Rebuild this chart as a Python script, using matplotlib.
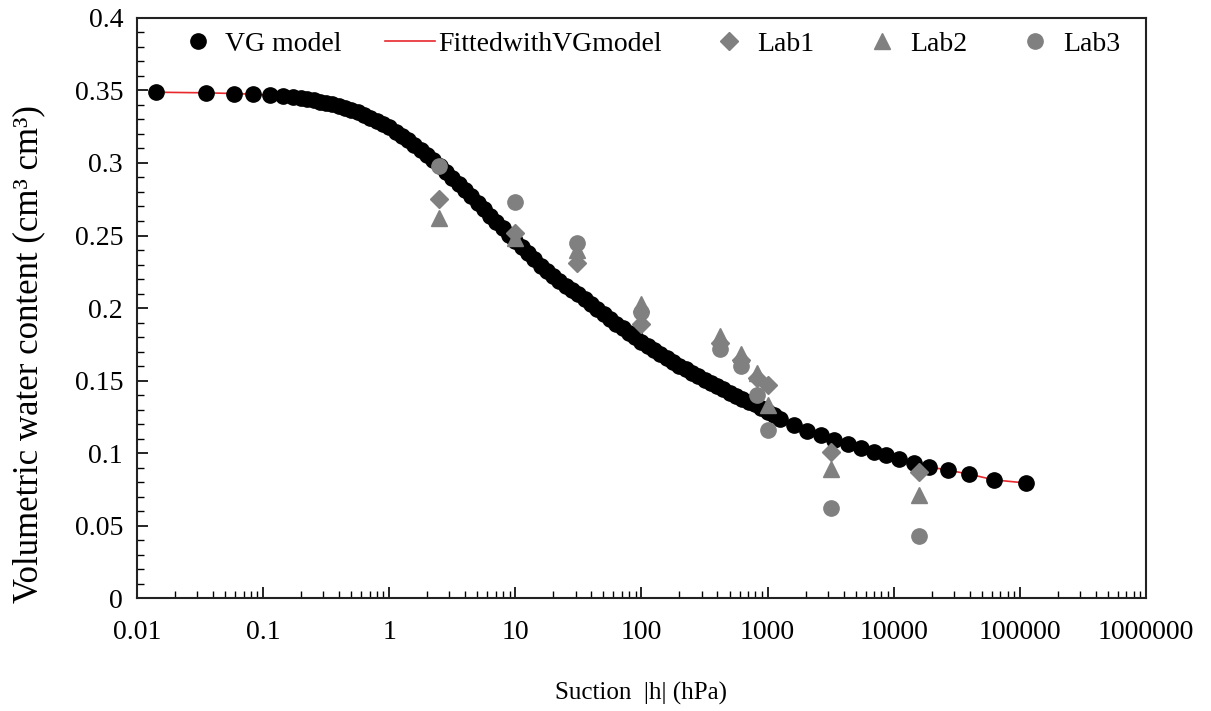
import matplotlib
matplotlib.use("Agg")
import matplotlib.pyplot as plt
from matplotlib.ticker import FixedLocator, LogLocator, MultipleLocator, NullFormatter

plt.rcParams['font.family'] = ['Liberation Serif', 'DejaVu Serif']

# VG model points: suction (hPa) and water content
vg_h = [0.0142, 0.0353, 0.0589, 0.0834, 0.114, 0.144, 0.173,
        0.1995, 0.2239, 0.2512, 0.2818, 0.3162, 0.3548, 0.3981, 0.4467, 0.5012, 0.5623,
        0.6310, 0.7079, 0.7943, 0.8913, 1.000, 1.122, 1.259, 1.413, 1.585, 1.778,
        1.995, 2.239, 2.512, 2.818, 3.162, 3.548, 3.981, 4.467, 5.012, 5.623,
        6.310, 7.079, 7.943, 8.913, 10.00, 11.22, 12.59, 14.13, 15.85, 17.78,
        19.95, 22.39, 25.12, 28.18, 31.62, 35.48, 39.81, 44.67, 50.12, 56.23,
        63.10, 70.79, 79.43, 89.13, 100.0, 112.2, 125.9, 141.3, 158.5, 177.8,
        199.5, 223.9, 251.2, 281.8, 316.2, 354.8, 398.1, 446.7, 501.2, 562.3,
        631.0, 707.9, 794.3, 891.3, 1000, 1122, 1259,
        1610, 2070, 2630, 3340, 4310, 5470, 6920, 8650, 10960, 14430, 18970,
        26840, 39400, 62200, 111700]
vg_theta = [0.3488, 0.3484, 0.3479, 0.3474, 0.3467, 0.3459, 0.3452,
            0.3445, 0.3439, 0.3432, 0.3424, 0.3415, 0.3404, 0.3393, 0.3380, 0.3366, 0.3350,
            0.3333, 0.3313, 0.3293, 0.3269, 0.3245, 0.3217, 0.3189, 0.3158, 0.3126, 0.3091,
            0.3056, 0.3018, 0.2979, 0.2939, 0.2898, 0.2856, 0.2813, 0.2770, 0.2726, 0.2682,
            0.2637, 0.2593, 0.2549, 0.2506, 0.2462, 0.2419, 0.2376, 0.2335, 0.2293, 0.2258,
            0.2222, 0.2188, 0.2154, 0.2122, 0.2099, 0.2063, 0.2027, 0.1993, 0.1958, 0.1925,
            0.1891, 0.1860, 0.1828, 0.1798, 0.1768, 0.1739, 0.1710, 0.1683, 0.1655, 0.1629,
            0.1603, 0.1578, 0.1552, 0.1529, 0.1505, 0.1482, 0.1459, 0.1438, 0.1416, 0.1396,
            0.1375, 0.1355, 0.1335, 0.1312, 0.1283, 0.1260, 0.1232,
            0.1192, 0.1154, 0.1121, 0.1090, 0.1060, 0.1034, 0.1007, 0.0983, 0.0959, 0.0931, 0.0905,
            0.0882, 0.0855, 0.0815, 0.0793]

# lab measurements
lab_h = [2.5, 10, 31, 100, 420, 620, 820, 1000, 3200, 16000]
lab1 = [0.275, 0.252, 0.231, 0.189, 0.176, 0.164, 0.152, 0.147, 0.101, 0.087]
lab2 = [0.262, 0.248, 0.240, 0.203, 0.181, 0.168, 0.155, 0.133, 0.089, 0.071]
lab3 = [0.298, 0.273, 0.245, 0.197, 0.172, 0.160, 0.140, 0.116, 0.062, 0.043]

x_ticks = [0.01, 0.1, 1, 10, 100, 1000, 10000, 100000, 1000000]
x_labels = ['0.01', '0.1', '1', '10', '100', '1000', '10000', '100000', '1000000']
y_ticks = [0, 0.05, 0.1, 0.15, 0.2, 0.25, 0.3, 0.35, 0.4]
y_labels = ['0', '0.05', '0.1', '0.15', '0.2', '0.25', '0.3', '0.35', '0.4']

fig = plt.figure(figsize=(12.11, 7.11), dpi=100)
ax = fig.add_axes([0.1131, 0.1589, 0.8332, 0.8158])

gray = '#808080'
ax.plot(vg_h, vg_theta, 'o', color='black', markersize=11, label='VG model', zorder=3)
ax.plot(vg_h, vg_theta, '-', color='#e8282b', linewidth=1.2, label='FittedwithVGmodel', zorder=2)
ax.plot(lab_h, lab1, 'D', color=gray, markersize=9, linestyle='none', label='Lab1', zorder=4)
ax.plot(lab_h, lab2, '^', color=gray, markersize=11, linestyle='none', label='Lab2', zorder=4)
ax.plot(lab_h, lab3, 'o', color=gray, markersize=11, linestyle='none', label='Lab3', zorder=4)

ax.set_xscale('log')
ax.set_xlim(0.01, 1000000)
ax.set_ylim(0, 0.4)
ax.xaxis.set_major_locator(FixedLocator(x_ticks))
ax.set_xticklabels(x_labels)
ax.xaxis.set_minor_locator(LogLocator(base=10, subs=range(2, 10), numticks=20))
ax.xaxis.set_minor_formatter(NullFormatter())
ax.set_yticks(y_ticks)
ax.set_yticklabels(y_labels)
ax.yaxis.set_minor_locator(MultipleLocator(0.01))

ax.tick_params(which='both', direction='in', top=False, right=False, labelsize=20, colors='black')
ax.tick_params(which='major', length=8, width=1.2)
ax.tick_params(which='minor', length=5, width=1.0)
ax.tick_params(axis='x', pad=16)
ax.tick_params(axis='y', pad=10)
for s in ax.spines.values():
    s.set_linewidth(1.5)
    s.set_color('#222222')

ax.set_xlabel('Suction  |h| (hPa)', fontsize=18)
ax.xaxis.set_label_coords(0.5, -0.145)
ax.set_ylabel('Volumetric water content (cm³ cm³)', fontsize=25)
ax.yaxis.set_label_coords(-0.091, 0.42)

ax.legend(loc='upper center', bbox_to_anchor=(0.505, 1.02), ncol=5, frameon=False,
          fontsize=20, handlelength=1.8, handletextpad=0.1, columnspacing=1.55,
          borderpad=0.4)

fig.savefig('out.png', dpi=100)
